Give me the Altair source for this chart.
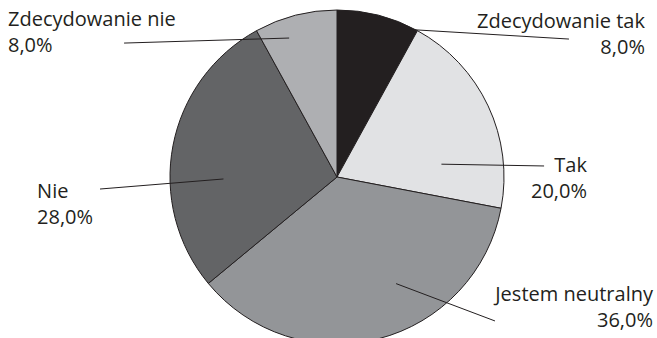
import math

import altair as alt
import pandas as pd

# Survey answers and their shares (percent)
categories = ["Zdecydowanie tak", "Tak", "Jestem neutralny", "Nie", "Zdecydowanie nie"]
shares = [8.0, 20.0, 36.0, 28.0, 8.0]
fills = ["#231f20", "#e1e2e4", "#939598", "#636466", "#aeafb2"]

# Label placement in units of the pie radius, measured from the pie centre
# (x to the right, y upwards); the leader line ends at (leader_x, leader_y).
label_x = [1.844, 1.497, 1.892, -1.796, -1.970]
label_y = [0.928, 0.066, -0.707, -0.090, 0.940]
label_align = ["right", "right", "right", "left", "left"]
leader_x = [1.389, 1.240, 0.946, -1.419, -1.275]
leader_y = [0.826, 0.066, -0.862, -0.072, 0.802]
# Where each leader line starts inside its slice: angle clockwise from
# 12 o'clock (degrees) and distance from the centre (fraction of radius)
anchor_deg = [16, 83, 151, 269, 341]
anchor_r = [0.93, 0.63, 0.73, 0.68, 0.88]

W, H = 657, 338
CX, CY, R = 337, 177, 167
INK = "#231f20"
FONT = "Open Sans"
FONT_SIZE = 20
LINE_GAP = 26

rows = []
for i, (cat, val) in enumerate(zip(categories, shares)):
    a = math.radians(anchor_deg[i])
    rows.append(
        {
            "idx": i,
            "category": cat,
            "share": val,
            "pct": f"{val:.1f}%".replace(".", ","),
            "ix": anchor_r[i] * math.sin(a),
            "iy": anchor_r[i] * math.cos(a),
            "ox": leader_x[i],
            "oy": leader_y[i],
            "lx": label_x[i],
            "ly": label_y[i],
            "align": label_align[i],
        }
    )
df = pd.DataFrame(rows)

xs = alt.Scale(domain=[-CX / R, (W - CX) / R], nice=False, zero=False)
ys = alt.Scale(domain=[-(H - CY) / R, CY / R], nice=False, zero=False)

pie = (
    alt.Chart(df)
    .mark_arc(radius=R, stroke=INK, strokeWidth=1)
    .encode(
        theta=alt.Theta("share:Q", stack=True),
        order=alt.Order("idx:Q"),
        color=alt.Color(
            "category:N",
            scale=alt.Scale(domain=categories, range=fills),
            legend=None,
        ),
        x=alt.value(CX),
        y=alt.value(CY),
    )
)

leaders = (
    alt.Chart(df)
    .mark_rule(color=INK, strokeWidth=1)
    .encode(
        x=alt.X("ix:Q", scale=xs, axis=None),
        y=alt.Y("iy:Q", scale=ys, axis=None),
        x2="ox:Q",
        y2="oy:Q",
    )
)


def label_layer(align, field, dy):
    return (
        alt.Chart(df)
        .transform_filter(alt.datum.align == align)
        .mark_text(
            align=align,
            baseline="middle",
            dy=dy,
            font=FONT,
            fontSize=FONT_SIZE,
            color=INK,
        )
        .encode(
            x=alt.X("lx:Q", scale=xs, axis=None),
            y=alt.Y("ly:Q", scale=ys, axis=None),
            text=f"{field}:N",
        )
    )


labels = [
    label_layer(a, f, d)
    for a in ("left", "right")
    for f, d in (("category", 0), ("pct", LINE_GAP))
]

chart = (
    alt.layer(pie, leaders, *labels)
    .properties(width=W, height=H, padding=0, autosize="none", background="white")
    .configure_view(stroke=None)
)

chart.save("out.html", embed_options={"renderer": "svg", "actions": False})
